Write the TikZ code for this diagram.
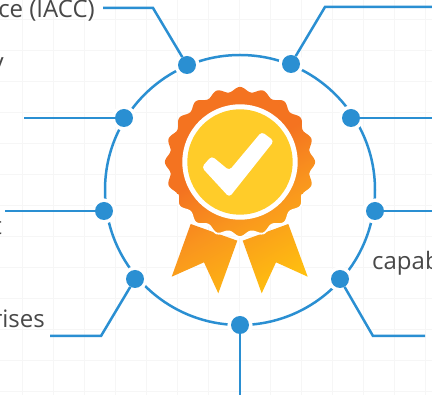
\documentclass[tikz,border=0pt]{standalone}
\usepackage{fontspec}
\setmainfont{Open Sans}
\usetikzlibrary{calc}
\definecolor{linkblue}{HTML}{2A8FD2}
\definecolor{labelgrey}{HTML}{484848}
\definecolor{gridgrey}{HTML}{F6F6F6}
\definecolor{medalA}{HTML}{F47320}
\definecolor{medalB}{HTML}{F9951E}
\definecolor{medalC}{HTML}{FFC00F}
\definecolor{sealyellow}{HTML}{FFCC29}
\pgfdeclareverticalshading{medalshade}{100bp}{
  color(0bp)=(medalC); color(28bp)=(medalC); color(45bp)=(medalB); color(56bp)=(medalA); color(100bp)=(medalA)}
\tikzset{
  x=1pt,y=-1pt,
  gridline/.style={draw=gridgrey,line width=0.7pt},
  ringline/.style={draw=linkblue,line width=2.5pt},
  link/.style={draw=linkblue,line width=2.5pt,line join=miter},
  dot/.style={circle,fill=linkblue,minimum size=18pt,inner sep=0pt,
    preaction={draw=white,line width=7pt}},
  lab/.style={text=labelgrey,font=\fontsize{24}{27}\selectfont,inner sep=0pt,anchor=base east},
  labw/.style={text=labelgrey,font=\fontsize{24}{27}\selectfont,inner sep=0pt,anchor=base west}
}
\def\sealpath{
  plot[smooth cycle,samples=240,domain=0:358.5,variable=\t]
   ({240+(72.7+2.4*cos(20*\t))*cos(\t)},{162+(72.7+2.4*cos(20*\t))*sin(\t)})}
\begin{document}
\begin{tikzpicture}
\useasboundingbox (0,0) rectangle (432,395);
\clip (0,0) rectangle (432,395);
\fill[white] (0,0) rectangle (432,395);
% faint grid
\foreach \gx in {22,53,...,425} \draw[gridline] (\gx,0) -- (\gx,395);
\foreach \gy in {19,50,...,395} \draw[gridline] (0,\gy) -- (432,\gy);
% ring
\draw[ringline] (240,190) circle[radius=135];
% dots
\node[dot] (d1) at (187,65) {};
\node[dot] (d2) at (291,64) {};
\node[dot] (d3) at (351,118) {};
\node[dot] (d4) at (375,211) {};
\node[dot] (d5) at (340,279) {};
\node[dot] (d6) at (240,325) {};
\node[dot] (d7) at (135,279) {};
\node[dot] (d8) at (104,211) {};
\node[dot] (d9) at (124,118) {};
% free ends
\coordinate (e1a) at (153,8);   \coordinate (e1b) at (103,8);
\coordinate (e2a) at (325,7);   \coordinate (e2b) at (432,7);
\coordinate (e3) at (432,118);
\coordinate (e4) at (432,211);
\coordinate (e5a) at (373,336); \coordinate (e5b) at (425,336);
\coordinate (e6) at (240,395);
\coordinate (e7a) at (101,336); \coordinate (e7b) at (50,336);
\coordinate (e8) at (5,211);
\coordinate (e9) at (24,118);
% connectors
\draw[link] (d1) -- (e1a) -- (e1b);
\draw[link] (d2) -- (e2a) -- (e2b);
\draw[link] (d3) -- (e3);
\draw[link] (d4) -- (e4);
\draw[link] (d5) -- (e5a) -- (e5b);
\draw[link] (d6) -- (e6);
\draw[link] (d7) -- (e7a) -- (e7b);
\draw[link] (d8) -- (e8);
\draw[link] (d9) -- (e9);
% labels
\node[lab] (l1) at (95,18) {ce (IACC)};
\node[lab] (l2) at (4,71) {y};
\node[lab] (l3) at (2,235) {t};
\node[lab] (l4) at (45,328) {rises};
\node[labw] (l5) at (372,270) {capab};
% medal
\begin{scope}
  \clip \sealpath
    (190.7,224) -- (237.3,240.7) -- (218.3,293.3) -- (204,262.3) -- (171.7,276.7) -- cycle
    (288.3,224) -- (307.7,276.7) -- (276,262.3) -- (261.7,293.3) -- (242.7,240.7) -- cycle;
  \shade[shading=medalshade,shading angle=30] (120,70) rectangle (360,310);
\end{scope}
\begin{scope}
  \clip (165,195) rectangle (315,245);
  \draw[white,line width=1.8pt] \sealpath;
\end{scope}
\fill[white] (240,162) circle[radius=57.7];
\fill[sealyellow] (240,162) circle[radius=52.7];
\fill[white,rounded corners=3.5pt] (211.7,156) -- (229.3,170.5) -- (261.7,131.7) -- (274,141) -- (229.3,197.3) -- (201.7,167.3) -- cycle;
\end{tikzpicture}
\end{document}
